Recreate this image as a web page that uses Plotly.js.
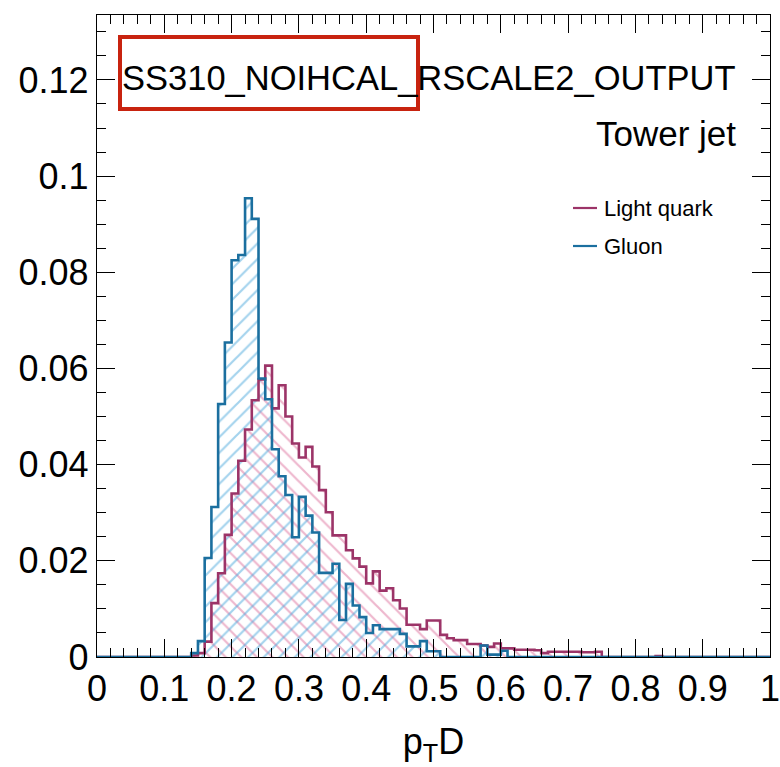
<!DOCTYPE html>
<html>
<head>
<meta charset="utf-8">
<script src="https://cdn.plot.ly/plotly-3.0.1.min.js"></script>
<style>
  html, body { margin: 0; padding: 0; background: #ffffff; }
  #chart { width: 780px; height: 767px; }
</style>
</head>
<body>
<div id="chart"></div>
<script>
// Histogram bin lower edges (bin width 0.01) and the upper edge of the last bin
const binLow = [
  0.00,0.01,0.02,0.03,0.04,0.05,0.06,0.07,0.08,0.09,
  0.10,0.11,0.12,0.13,0.14,0.15,0.16,0.17,0.18,0.19,
  0.20,0.21,0.22,0.23,0.24,0.25,0.26,0.27,0.28,0.29,
  0.30,0.31,0.32,0.33,0.34,0.35,0.36,0.37,0.38,0.39,
  0.40,0.41,0.42,0.43,0.44,0.45,0.46,0.47,0.48,0.49,
  0.50,0.51,0.52,0.53,0.54,0.55,0.56,0.57,0.58,0.59,
  0.60,0.61,0.62,0.63,0.64,0.65,0.66,0.67,0.68,0.69,
  0.70,0.71,0.72,0.73,0.74,0.75,0.76,0.77,0.78,0.79,
  0.80,0.81,0.82,0.83,0.84,0.85,0.86,0.87,0.88,0.89,
  0.90,0.91,0.92,0.93,0.94,0.95,0.96,0.97,0.98,0.99
];
const binWidth = 0.01;
const lastEdge = 1.00;

// Light quark normalized counts per bin
const lightQuark = [
  0,0,0,0,0,0,0,0,0,0,
  0,0,0,0,0.0003,0.0008,0.0032,0.0112,0.0174,0.0254,
  0.0340,0.0408,0.0473,0.0534,0.0577,0.0606,0.0517,0.0565,0.0500,0.0444,
  0.0415,0.0437,0.0396,0.0347,0.0301,0.0253,0.0253,0.0222,0.0205,0.0188,
  0.0153,0.0178,0.0138,0.0143,0.0118,0.0101,0.0067,0.0067,0.0058,0.0076,
  0.0076,0.0046,0.0039,0.0035,0.0035,0.0027,0.0027,0.0024,0.0021,0.0028,
  0.0018,0.0018,0.0015,0.0015,0.0015,0.0014,0.0008,0.0011,0.0011,0.0011,
  0.0011,0.0011,0.0010,0.0010,0.0011,0,0,0,0,0,
  0,0,0,0.0002,0,0,0,0,0,0,
  0,0,0,0,0,0,0,0,0,0
];

// Gluon normalized counts per bin
const gluon = [
  0,0,0,0,0,0,0,0,0,0,
  0,0,0,0,0.0008,0.0033,0.0206,0.0312,0.0526,0.0654,
  0.0825,0.0836,0.0954,0.0911,0.0579,0.0536,0.0432,0.0376,0.0337,0.0249,
  0.0333,0.0294,0.0259,0.0175,0.0175,0.0194,0.0077,0.0152,0.0107,0.0083,
  0.0050,0.0066,0.0058,0.0058,0.0058,0.0048,0.0022,0.0022,0.0033,0.0012,
  0.0012,0,0,0,0,0,0,0.0024,0.0005,0.0005,
  0.0013,0,0,0,0,0,0,0,0,0,
  0,0,0,0,0,0,0,0,0,0,
  0,0,0,0,0,0,0,0,0,0,
  0,0,0,0,0,0,0,0,0,0
];

const seriesNames = ['Light quark', 'Gluon'];
const lineColors = ['#9c3468', '#1b6f9f'];
const hatchColors = ['#dd6f9c', '#4aa8dc'];
const hatchShapes = ['\\', '/'];

const edges = binLow.concat([lastEdge]);
const FONT = 'Liberation Sans, Arial, Helvetica, sans-serif';

function barTrace(vals, i) {
  return {
    type: 'bar', x: binLow, y: vals, width: binWidth, offset: 0,
    marker: {
      color: 'rgba(0,0,0,0)', line: { width: 0 },
      pattern: { shape: hatchShapes[i], fgcolor: hatchColors[i], bgcolor: 'rgba(0,0,0,0)',
                 size: 11, solidity: 0.2, fillmode: 'overlay' }
    },
    hoverinfo: 'skip', showlegend: false, name: seriesNames[i]
  };
}
function stepTrace(vals, i) {
  return {
    type: 'scatter', mode: 'lines', x: edges, y: vals.concat([vals[vals.length - 1]]),
    line: { shape: 'hv', color: lineColors[i], width: 2.6 },
    hoverinfo: 'skip', showlegend: false, name: seriesNames[i], cliponaxis: true
  };
}

const data = [
  barTrace(lightQuark, 0),
  barTrace(gluon, 1),
  stepTrace(lightQuark, 0),
  stepTrace(gluon, 1)
];

// plot area: x 97..770, y 15..657
const plotW = 673, plotH = 642, plotL = 97, plotB = 657;
const px = (x) => (x - plotL) / plotW;
const py = (y) => (plotB - y) / plotH;

const layout = {
  width: 780, height: 767,
  margin: { l: 97, r: 10, t: 15, b: 110, pad: 0 },
  paper_bgcolor: '#ffffff', plot_bgcolor: '#ffffff',
  barmode: 'overlay', bargap: 0,
  font: { family: FONT, color: '#000000' },
  xaxis: {
    range: [0, 1], tick0: 0, dtick: 0.1,
    ticks: 'inside', ticklen: 18, tickwidth: 1, tickcolor: '#000',
    minor: { tickmode: 'linear', tick0: 0, dtick: 0.02, ticks: 'inside', ticklen: 9, tickwidth: 1, tickcolor: '#000' },
    mirror: 'allticks', showline: true, linecolor: '#000', linewidth: 1.2,
    showgrid: false, zeroline: false,
    ticklabeloverflow: 'allow',
    tickfont: { family: FONT, size: 36, color: '#000' },
    title: { text: 'p<sub>T</sub>D', font: { family: FONT, size: 36, color: '#000' }, standoff: 30 },
    automargin: false
  },
  yaxis: {
    range: [0, 0.1335], tick0: 0, dtick: 0.02,
    ticks: 'inside', ticklen: 18, tickwidth: 1, tickcolor: '#000',
    minor: { tickmode: 'linear', tick0: 0, dtick: 0.005, ticks: 'inside', ticklen: 9, tickwidth: 1, tickcolor: '#000' },
    mirror: 'allticks', showline: true, linecolor: '#000', linewidth: 1.2,
    showgrid: false, zeroline: false,
    ticklabeloverflow: 'allow',
    tickfont: { family: FONT, size: 36, color: '#000' },
    automargin: false
  },
  shapes: [
    { type: 'rect', xref: 'paper', yref: 'paper', x0: px(120), x1: px(418), y0: py(109), y1: py(37),
      line: { color: '#c8230f', width: 4 }, fillcolor: 'rgba(0,0,0,0)' },
    { type: 'line', xref: 'paper', yref: 'paper', x0: px(573), x1: px(597), y0: py(208), y1: py(208),
      line: { color: lineColors[0], width: 2.2 } },
    { type: 'line', xref: 'paper', yref: 'paper', x0: px(573), x1: px(597), y0: py(246), y1: py(246),
      line: { color: lineColors[1], width: 2.2 } }
  ],
  annotations: [
    { xref: 'paper', yref: 'paper', x: px(738), y: py(78), xanchor: 'right', yanchor: 'middle',
      text: 'SS310_NOIHCAL_RSCALE2_OUTPUT', showarrow: false,
      font: { family: FONT, size: 34.5, color: '#000' } },
    { xref: 'paper', yref: 'paper', x: px(738), y: py(133), xanchor: 'right', yanchor: 'middle',
      text: 'Tower jet', showarrow: false,
      font: { family: FONT, size: 35, color: '#000' } },
    { xref: 'paper', yref: 'paper', x: px(602), y: py(208), xanchor: 'left', yanchor: 'middle',
      text: seriesNames[0], showarrow: false,
      font: { family: FONT, size: 22, color: '#000' } },
    { xref: 'paper', yref: 'paper', x: px(602), y: py(246), xanchor: 'left', yanchor: 'middle',
      text: seriesNames[1], showarrow: false,
      font: { family: FONT, size: 22, color: '#000' } }
  ]
};

Plotly.newPlot('chart', data, layout, { displayModeBar: false, staticPlot: true });
</script>
</body>
</html>
